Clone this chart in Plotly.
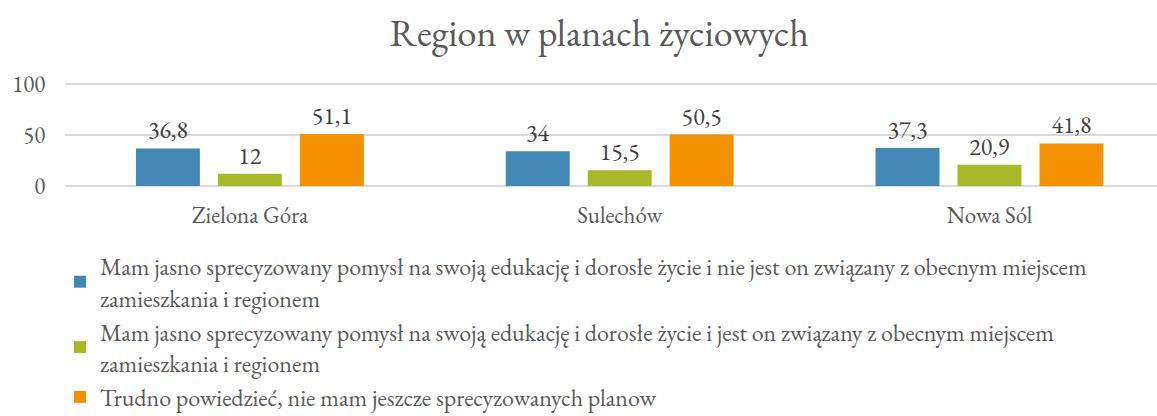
import plotly.graph_objects as go

categories = ["Zielona Góra", "Sulechów", "Nowa Sól"]
series_names = [
    "Mam jasno sprecyzowany pomysł na swoją edukację i dorosłe życie i nie jest on związany z obecnym miejscem<br>zamieszkania i regionem",
    "Mam jasno sprecyzowany pomysł na swoją edukację i dorosłe życie i jest on związany z obecnym miejscem<br>zamieszkania i regionem",
    "Trudno powiedzieć, nie mam jeszcze sprecyzowanych planow",
]
values_nie_zwiazany = [36.8, 34, 37.3]
values_zwiazany = [12, 15.5, 20.9]
values_trudno = [51.1, 50.5, 41.8]
colors = ["#4189B4", "#A6B928", "#F49100"]
y_ticks = [0, 50, 100]

FONT = "EB Garamond, Garamond, Liberation Serif, serif"

def fmt(v):
    return str(v).replace(".", ",")

fig = go.Figure()
for name, vals, col in zip(series_names, [values_nie_zwiazany, values_zwiazany, values_trudno], colors):
    fig.add_trace(go.Bar(
        x=categories, y=vals, name=name, legendgroup=name,
        marker=dict(color=col, line=dict(width=0)),
        text=[fmt(v) for v in vals], textposition="outside",
        textfont=dict(family=FONT, size=24, color="#404040"),
        cliponaxis=False,
    ))

fig.update_layout(
    width=1157, height=416,
    margin=dict(l=65, r=0, t=82, b=230, autoexpand=False),
    paper_bgcolor="white", plot_bgcolor="white",
    font=dict(family=FONT, color="#595959", size=22),
    title=dict(text="Region w planach życiowych", font=dict(family=FONT, size=38, color="#595959"),
               x=0.518, xref="container", xanchor="center", y=1 - 33 / 416, yref="container", yanchor="middle"),
    barmode="group", bargap=0.335, bargroupgap=0.22,
    showlegend=True,
    legend=dict(orientation="v", xref="container", yref="container", x=60 / 1157, y=1 - 244 / 416,
                xanchor="left", yanchor="top", font=dict(family=FONT, size=24, color="#595959"),
                tracegroupgap=0, traceorder="normal", itemclick=False),
    xaxis=dict(range=[-0.5, 2.453], showgrid=False, showline=False, ticks="outside", ticklen=8,
               tickangle=0, tickcolor="rgba(0,0,0,0)", tickfont=dict(family=FONT, size=23, color="#595959")),
    yaxis=dict(range=[0, 102], tickvals=y_ticks, showgrid=True, gridcolor="#D9D9D9", gridwidth=1.5,
               zeroline=True, zerolinecolor="#D9D9D9", zerolinewidth=1.5, ticks="outside", ticklen=14,
               tickcolor="rgba(0,0,0,0)", tickfont=dict(family=FONT, size=23, color="#595959")),
)

fig.write_html("out.html", config={"displayModeBar": False},
               post_script="document.body.style.margin='0';document.body.style.overflow='hidden';")
